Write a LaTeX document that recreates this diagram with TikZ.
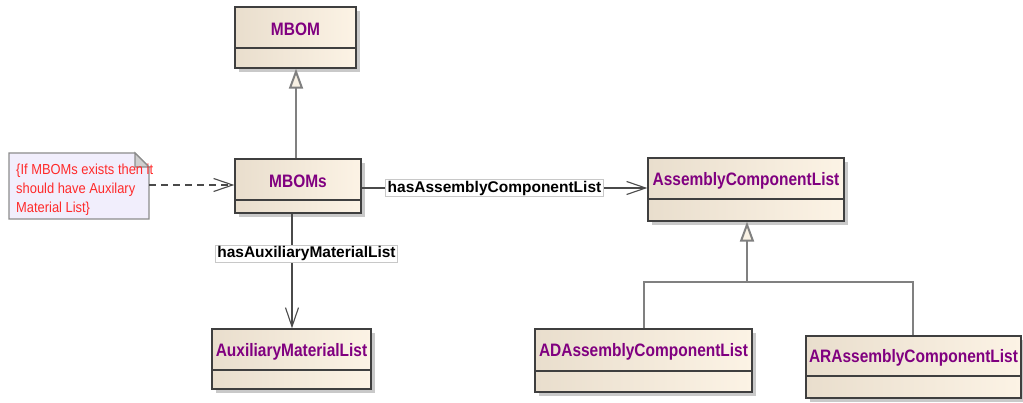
\documentclass[tikz,border=0pt]{standalone}
\usepackage{fontspec}
\setmainfont{Liberation Sans}
\newfontfamily\classfont[FakeStretch=0.86]{Liberation Sans}
\newfontfamily\notefont[FakeStretch=0.89]{Liberation Sans}
\usetikzlibrary{arrows.meta,shadows,fit,calc}

\definecolor{classpurple}{HTML}{800080}
\definecolor{boxleft}{HTML}{E9DECD}
\definecolor{boxright}{HTML}{FCF3E5}
\definecolor{boxline}{HTML}{3F3F3F}
\definecolor{genline}{HTML}{808080}
\definecolor{genfill}{HTML}{F8F1E4}
\definecolor{assocline}{HTML}{4A4A4A}
\definecolor{notefill}{HTML}{F1EEFC}
\definecolor{noteline}{HTML}{8C8C8C}
\definecolor{notefold}{HTML}{CFCFCF}
\definecolor{notetext}{HTML}{FF2A2A}
\definecolor{shadowgray}{HTML}{C9C9C9}
\definecolor{labelline}{HTML}{C8C8C8}

\tikzset{
  classbox/.style={draw=boxline, line width=1.3pt, left color=boxleft,
    right color=boxright, inner sep=0pt,
    drop shadow={shadow xshift=4pt, shadow yshift=-4pt, fill=shadowgray, opacity=1}},
  divider/.style={draw=boxline, line width=1.3pt},
  classname/.style={font=\classfont\bfseries\fontsize{18}{20}\selectfont,
    text=classpurple, inner sep=0pt},
  generalization/.style={draw=genline, line width=2pt,
    -{Triangle[length=20pt,width=14pt,fill=genfill,line width=2pt]}},
  genbranch/.style={draw=genline, line width=2pt},
  association/.style={draw=assocline, line width=1.1pt,
    -{Straight Barb[length=19pt,width=13pt,line width=1.1pt]}},
  dependency/.style={draw=assocline, line width=1.1pt, dash pattern=on 7pt off 5pt,
    -{Straight Barb[length=19pt,width=13pt,line width=1.1pt]}},
  rolelabel/.style={fill=white, draw=labelline, line width=0.6pt,
    inner xsep=2pt, inner ysep=1.5pt,
    font=\bfseries\fontsize{15.5}{17}\selectfont, text=black},
  notebody/.style={fill=notefill, draw=noteline, line width=1.1pt},
  notetextstyle/.style={font=\notefont\fontsize{14.5}{19}\selectfont,
    text=notetext, align=left, inner sep=0pt},
}

% class box: name, x1, y1, x2, y2, divider y, title
\newcommand{\umlclassbox}[7]{%
  \node[classbox, fit={(#2,#3) (#4,#5)}] (#1) {};
  \draw[divider] (#1.west |- 0,#6) -- (#1.east |- 0,#6);
  \node[classname, yshift=-2.5pt] (#1-title) at ($(#1.north)!0.5!(#1.north |- 0,#6)$) {#7};
}

\begin{document}
\begin{tikzpicture}[x=1pt, y=-1pt]
  \useasboundingbox (0,0) rectangle (1023,403);

  % classes
  \umlclassbox{mbom}{235}{7}{356}{68}{48}{MBOM}
  \umlclassbox{mboms}{235}{159}{361}{213}{200}{MBOMs}
  \umlclassbox{auxlist}{212}{329}{371}{389}{370}{AuxiliaryMaterialList}
  \umlclassbox{acl}{648}{158}{844}{221}{199}{AssemblyComponentList}
  \umlclassbox{adacl}{535}{329}{752}{392}{371}{ADAssemblyComponentList}
  \umlclassbox{aracl}{806}{336}{1021}{398}{376}{ARAssemblyComponentList}

  % constraint note with folded corner
  \node[inner sep=0pt, fit={(9,153) (149,219)}] (note) {};
  \draw[notebody] (9,153) -- (135,153) -- (149,167) -- (149,219) -- (9,219) -- cycle;
  \draw[draw=noteline, fill=notefold, line width=1.1pt] (135,153) -- (135,167) -- (149,167) -- cycle;
  \node[notetextstyle, anchor=north west] (notetext) at (16,164)
    {\{If MBOMs exists then it\\should have Auxilary\\Material List\}};

  % note attached to MBOMs
  \draw[dependency] (note.east |- 0,185) -- (mboms.west |- 0,185);

  % MBOMs specialises MBOM
  \draw[generalization] (mboms.north -| 296,0) -- (mbom.south -| 296,0);

  % associations
  \draw[association] (mboms.east |- 0,188) -- node[rolelabel, pos=0.465] (acllabel) {hasAssemblyComponentList} (acl.west |- 0,188);
  \draw[association] (mboms.south -| 292,0) -- node[rolelabel, pos=0.35, xshift=14.5pt] (auxlabel) {hasAuxiliaryMaterialList} (auxlist.north -| 292,0);

  % AD/AR specialise AssemblyComponentList
  \coordinate (genjoin) at (747,282);
  \draw[genbranch] (adacl.north -| 644,0) |- (genjoin);
  \draw[genbranch] (aracl.north -| 913,0) |- (genjoin);
  \draw[generalization] (genjoin) -- (acl.south -| 747,0);
\end{tikzpicture}
\end{document}
